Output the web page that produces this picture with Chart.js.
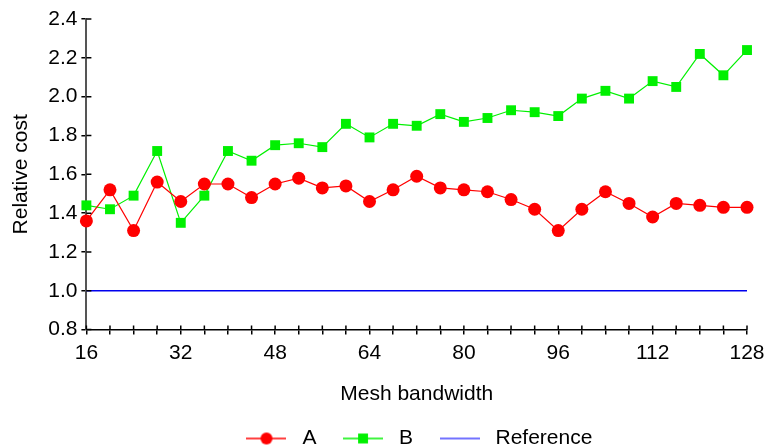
<!DOCTYPE html>
<html>
<head>
<meta charset="utf-8">
<script src="https://cdn.jsdelivr.net/npm/chart.js@4/dist/chart.umd.min.js"></script>
<style>
  html, body { margin: 0; padding: 0; background: #fff; }
  #wrap { width: 765px; height: 445px; }
</style>
</head>
<body>
<div id="wrap"><canvas id="chart-cost"></canvas></div>
<script>
// mesh bandwidth (x) and relative cost of the two methods
const bandwidth = [16, 20, 24, 28, 32, 36, 40, 44, 48, 52, 56, 60, 64, 68, 72,
  76, 80, 84, 88, 92, 96, 100, 104, 108, 112, 116, 120, 124, 128];
const costA = [1.36, 1.52, 1.31, 1.56, 1.46, 1.55, 1.55, 1.48, 1.55, 1.58, 1.53, 1.54, 1.46, 1.52, 1.59,
  1.53, 1.52, 1.51, 1.47, 1.42, 1.31, 1.42, 1.51, 1.45, 1.38, 1.45, 1.44, 1.43, 1.43];
const costB = [1.44, 1.42, 1.49, 1.72, 1.35, 1.49, 1.72, 1.67, 1.75, 1.76, 1.74, 1.86, 1.79, 1.86, 1.85,
  1.91, 1.87, 1.89, 1.93, 1.92, 1.90, 1.99, 2.03, 1.99, 2.08, 2.05, 2.22, 2.11, 2.24];
const referenceCost = 1.0;
const seriesNames = ["A", "B", "Reference"];

const FONT = { family: "'Liberation Sans', Arial, sans-serif", size: 21 };

const toPoints = (ys) => ys.map((y, i) => ({ x: bandwidth[i], y: y }));

// small line + marker images for the legend
function legendIcon(color, style, radius) {
  const c = document.createElement("canvas");
  c.width = 40;
  c.height = 16;
  const ctx = c.getContext("2d");
  ctx.strokeStyle = color;
  ctx.lineWidth = 1.5;
  ctx.beginPath();
  ctx.moveTo(0, 8);
  ctx.lineTo(40, 8);
  ctx.stroke();
  if (style) {
    ctx.fillStyle = color;
    Chart.helpers.drawPoint(ctx, { pointStyle: style, radius: radius, borderWidth: 0 }, 20, 8);
  }
  return c;
}

// tick marks that also reach a little way inside the plot
const innerTicks = {
  id: "innerTicks",
  afterDraw(chart) {
    const { ctx, chartArea, scales } = chart;
    ctx.save();
    ctx.strokeStyle = "#000";
    ctx.lineWidth = 1.5;
    ctx.beginPath();
    scales.x.ticks.forEach((t, i) => {
      const px = scales.x.getPixelForTick(i);
      ctx.moveTo(px, chartArea.bottom);
      ctx.lineTo(px, chartArea.bottom - 4);
    });
    scales.y.ticks.forEach((t, i) => {
      const py = scales.y.getPixelForTick(i);
      ctx.moveTo(chartArea.left, py);
      ctx.lineTo(chartArea.left + 5, py);
    });
    ctx.stroke();
    ctx.restore();
  },
};

// center the legend under the plot area instead of the whole canvas
const legendUnderPlot = {
  id: "legendUnderPlot",
  afterLayout(chart) {
    const legend = chart.legend;
    if (!legend) return;
    legend.left = chart.chartArea.left;
    legend.right = chart.chartArea.right;
    legend.width = legend.right - legend.left;
  },
};

const icons = [
  legendIcon("#ff0000", "circle", 6),
  legendIcon("#00f000", "rect", 7),
  legendIcon("#4444ff", null, 0),
];

new Chart(document.getElementById("chart-cost"), {
  type: "line",
  data: {
    datasets: [
      {
        label: seriesNames[0],
        data: toPoints(costA),
        borderColor: "#ff0000",
        backgroundColor: "#ff0000",
        borderWidth: 1.2,
        pointStyle: "circle",
        pointRadius: 6.5,
        pointBorderWidth: 0,
        clip: false,
      },
      {
        label: seriesNames[1],
        data: toPoints(costB),
        borderColor: "#00f000",
        backgroundColor: "#00f000",
        borderWidth: 1.2,
        pointStyle: "rect",
        pointRadius: 7,
        pointBorderWidth: 0,
        clip: false,
      },
      {
        label: seriesNames[2],
        data: [
          { x: bandwidth[0], y: referenceCost },
          { x: bandwidth[bandwidth.length - 1], y: referenceCost },
        ],
        borderColor: "#0000ee",
        borderWidth: 1.5,
        pointRadius: 0,
      },
    ],
  },
  options: {
    responsive: true,
    maintainAspectRatio: false,
    animation: false,
    layout: { padding: { left: 9, right: 9, top: 19, bottom: -14 } },
    plugins: {
      tooltip: { enabled: false },
      legend: {
        position: "bottom",
        labels: {
          color: "#000",
          font: FONT,
          usePointStyle: true,
          pointStyleWidth: 51,
          padding: 21,
          generateLabels: (chart) =>
            chart.data.datasets.map((ds, i) => ({
              text: ds.label,
              pointStyle: icons[i],
              fontColor: "#000",
              strokeStyle: "transparent",
              lineWidth: 0,
              datasetIndex: i,
            })),
        },
      },
    },
    scales: {
      x: {
        type: "linear",
        min: 16,
        max: 128,
        // the "128" label may hang a bit past the canvas edge room
        afterFit: (scale) => {
          scale.paddingRight = Math.min(scale.paddingRight, 18);
        },
        border: { color: "#000", width: 1.5 },
        grid: { drawOnChartArea: false, color: "#000", lineWidth: 1.5, tickLength: 5 },
        ticks: {
          stepSize: 4,
          autoSkip: false,
          maxRotation: 0,
          color: "#000",
          font: FONT,
          padding: 6,
          callback: (v) => (v % 16 === 0 ? String(v) : ""),
        },
        title: {
          display: true,
          text: "Mesh bandwidth",
          color: "#000",
          font: FONT,
          padding: { top: 10, bottom: 0 },
        },
      },
      y: {
        min: 0.8,
        max: 2.4,
        border: { color: "#555", width: 2 },
        grid: { drawOnChartArea: false, color: "#000", lineWidth: 1.5, tickLength: 5 },
        ticks: {
          stepSize: 0.2,
          color: "#000",
          font: FONT,
          padding: 4,
          callback: (v) => v.toFixed(1),
        },
        title: {
          display: true,
          text: "Relative cost",
          color: "#000",
          font: FONT,
          padding: { top: 0, bottom: 10 },
        },
      },
    },
  },
  plugins: [innerTicks, legendUnderPlot],
});
</script>
</body>
</html>
